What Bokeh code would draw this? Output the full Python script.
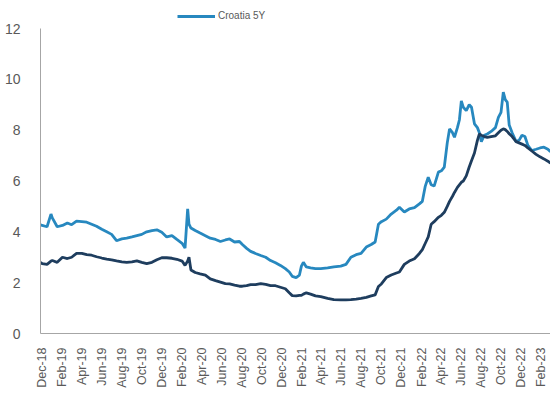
import pandas as pd
from bokeh.plotting import figure
from bokeh.models import Range1d, FixedTicker, DatetimeTickFormatter, Legend, LegendItem
from bokeh.embed import file_html
from bokeh.resources import INLINE
import math

dates = [
    "2018-11-26", "2018-12-01", "2018-12-16", "2018-12-28", "2019-01-01", "2019-01-16",
    "2019-02-01", "2019-02-16", "2019-03-01", "2019-03-16", "2019-04-01", "2019-04-16",
    "2019-05-01", "2019-05-16", "2019-06-01", "2019-06-16", "2019-07-01", "2019-07-16",
    "2019-08-01", "2019-08-16", "2019-09-01", "2019-09-16", "2019-10-01", "2019-10-16",
    "2019-11-01", "2019-11-16", "2019-12-01", "2019-12-16", "2020-01-01", "2020-01-16",
    "2020-02-01", "2020-02-10", "2020-02-18", "2020-02-22", "2020-02-28", "2020-03-12",
    "2020-03-27", "2020-04-12", "2020-04-27", "2020-05-13", "2020-05-28", "2020-06-12",
    "2020-06-25", "2020-07-10", "2020-07-25", "2020-08-03", "2020-08-16", "2020-08-28",
    "2020-09-12", "2020-09-28", "2020-10-13", "2020-10-28", "2020-11-12", "2020-11-27",
    "2020-12-12", "2020-12-24", "2021-01-02", "2021-01-14", "2021-01-24", "2021-01-30",
    "2021-02-05", "2021-02-14", "2021-02-27", "2021-03-14", "2021-03-30", "2021-04-20",
    "2021-05-09", "2021-05-30", "2021-06-15", "2021-06-30", "2021-07-16", "2021-07-31",
    "2021-08-16", "2021-08-31", "2021-09-12", "2021-09-22", "2021-10-01", "2021-10-16",
    "2021-10-31", "2021-11-16", "2021-11-25", "2021-12-10", "2021-12-25", "2022-01-10",
    "2022-01-25", "2022-02-03", "2022-02-12", "2022-02-21", "2022-03-02", "2022-03-11",
    "2022-03-24", "2022-04-02", "2022-04-11", "2022-04-20", "2022-04-27", "2022-05-06",
    "2022-05-12", "2022-05-21", "2022-05-27", "2022-06-02", "2022-06-08", "2022-06-17",
    "2022-06-26", "2022-07-03", "2022-07-12", "2022-07-21", "2022-07-27", "2022-08-02",
    "2022-08-11", "2022-08-20", "2022-09-01", "2022-09-14", "2022-09-23", "2022-10-01",
    "2022-10-08", "2022-10-14", "2022-10-20", "2022-10-26", "2022-11-04", "2022-11-16",
    "2022-11-25", "2022-12-04", "2022-12-13", "2022-12-22", "2023-01-03", "2023-01-16",
    "2023-01-28", "2023-02-09", "2023-02-21", "2023-03-01",
]

croatia_5y = [
    4.28, 4.25, 4.20, 4.70, 4.55, 4.20,
    4.25, 4.35, 4.28, 4.42, 4.40, 4.38,
    4.30, 4.22, 4.10, 4.00, 3.90, 3.65,
    3.72, 3.75, 3.80, 3.85, 3.90, 4.00,
    4.05, 4.08, 3.98, 3.80, 3.85, 3.70,
    3.55, 3.36, 4.90, 4.30, 4.15, 4.05,
    3.95, 3.85, 3.75, 3.70, 3.62, 3.68,
    3.72, 3.60, 3.62, 3.50, 3.35, 3.23,
    3.15, 3.07, 3.00, 2.87, 2.78, 2.68,
    2.55, 2.42, 2.25, 2.20, 2.30, 2.65,
    2.80, 2.62, 2.58, 2.55, 2.55, 2.58,
    2.62, 2.65, 2.72, 3.00, 3.10, 3.15,
    3.40, 3.50, 3.60, 4.30, 4.40, 4.50,
    4.70, 4.85, 4.97, 4.78, 4.90, 4.95,
    5.10, 5.20, 5.80, 6.15, 5.85, 5.80,
    6.35, 6.40, 6.55, 7.50, 8.05, 7.90,
    7.72, 8.10, 8.40, 9.15, 8.90, 8.77,
    9.00, 8.90, 8.25, 8.10, 7.90, 7.55,
    7.80, 7.85, 7.95, 8.10, 8.50, 8.70,
    9.50, 9.20, 9.10, 8.20, 7.90, 7.55,
    7.60, 7.80, 7.75, 7.40, 7.20, 7.25,
    7.30, 7.33, 7.25, 7.15,
]

benchmark = [
    2.80, 2.75, 2.72, 2.85, 2.87, 2.80,
    3.00, 2.95, 3.00, 3.15, 3.15, 3.10,
    3.08, 3.02, 2.97, 2.93, 2.90, 2.86,
    2.82, 2.80, 2.82, 2.86, 2.80, 2.75,
    2.80, 2.90, 2.98, 2.98, 2.96, 2.92,
    2.85, 2.68, 2.85, 3.00, 2.50, 2.40,
    2.35, 2.30, 2.15, 2.08, 2.02, 1.96,
    1.95, 1.90, 1.86, 1.86, 1.88, 1.92,
    1.92, 1.96, 1.93, 1.88, 1.88, 1.82,
    1.76, 1.60, 1.49, 1.48, 1.50, 1.50,
    1.55, 1.60, 1.55, 1.48, 1.45, 1.38,
    1.33, 1.32, 1.32, 1.33, 1.35, 1.38,
    1.42, 1.48, 1.52, 1.85, 1.95, 2.20,
    2.30, 2.38, 2.42, 2.72, 2.85, 2.94,
    3.15, 3.30, 3.55, 3.80, 4.30, 4.40,
    4.57, 4.65, 4.77, 5.00, 5.20, 5.40,
    5.55, 5.75, 5.85, 5.95, 6.00, 6.20,
    6.55, 6.80, 7.10, 7.60, 7.85, 7.80,
    7.75, 7.72, 7.75, 7.78, 7.90, 8.00,
    8.05, 8.02, 7.95, 7.86, 7.75, 7.55,
    7.50, 7.45, 7.40, 7.30, 7.18, 7.05,
    6.95, 6.87, 6.78, 6.70,
]

tick_labels = [
    "Dec-18", "Feb-19", "Apr-19", "Jun-19", "Aug-19", "Oct-19", "Dec-19",
    "Feb-20", "Apr-20", "Jun-20", "Aug-20", "Oct-20", "Dec-20",
    "Feb-21", "Apr-21", "Jun-21", "Aug-21", "Oct-21", "Dec-21",
    "Feb-22", "Apr-22", "Jun-22", "Aug-22", "Oct-22", "Dec-22", "Feb-23",
]
y_ticks = [0, 2, 4, 6, 8, 10, 12]

x = pd.to_datetime(dates)
tick_ms = [int(pd.to_datetime(t, format="%b-%y").value // 10**6) for t in tick_labels]

FONT = "Liberation Sans"
TEXT = "#595959"
AXIS = "#a6a6a6"

# frame spans the full height above the x axis; the value axis itself stops at 12
Y_TOP = 12 * 333 / 305

p = figure(width=550, height=401, x_axis_type="datetime",
           output_backend="svg", toolbar_location=None,
           min_border_left=40, min_border_right=0, min_border_top=0, min_border_bottom=68,
           x_range=Range1d(pd.Timestamp("2018-11-26"), pd.Timestamp("2023-03-01")),
           y_range=Range1d(0, Y_TOP))
p.outline_line_color = None
p.background_fill_color = "white"
p.border_fill_color = "white"
p.xgrid.visible = False
p.ygrid.visible = False

r_light = p.line(x, croatia_5y, line_color="#2788bf", line_width=2.8)
r_dark = p.line(x, benchmark, line_color="#1e3d5e", line_width=2.8)

p.yaxis.ticker = FixedTicker(ticks=y_ticks)
p.yaxis.bounds = (0, 12)
p.yaxis.major_tick_line_color = None
p.yaxis.minor_tick_line_color = None
p.yaxis.axis_line_color = AXIS
p.yaxis.major_label_text_font = FONT
p.yaxis.major_label_text_font_size = "14px"
p.yaxis.major_label_text_color = TEXT
p.yaxis.major_label_standoff = 14

p.xaxis.ticker = FixedTicker(ticks=tick_ms)
p.xaxis.formatter = DatetimeTickFormatter(days="%b-%y", months="%b-%y", years="%b-%y")
p.xaxis.major_label_orientation = math.pi / 2
p.xaxis.major_tick_line_color = None
p.xaxis.minor_tick_line_color = None
p.xaxis.axis_line_color = AXIS
p.xaxis.major_label_text_font = FONT
p.xaxis.major_label_text_font_size = "12.5px"
p.xaxis.major_label_text_color = TEXT
p.xaxis.major_label_standoff = 8

legend = Legend(items=[LegendItem(label="Croatia 5Y", renderers=[r_light])],
                location=(137, 312), orientation="horizontal",
                padding=0, margin=0, spacing=0, glyph_width=38, glyph_height=10,
                label_standoff=3, border_line_color=None, background_fill_alpha=0,
                label_text_font=FONT, label_text_font_size="10px",
                label_text_color=TEXT)
p.add_layout(legend)

open("out.html", "w").write(file_html(p, INLINE))
